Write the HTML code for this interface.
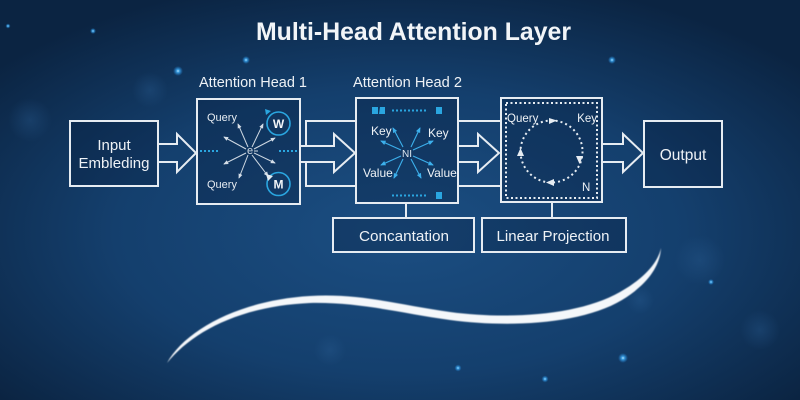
<!DOCTYPE html>
<html><head><meta charset="utf-8"><style>
html,body{margin:0;padding:0;width:800px;height:400px;overflow:hidden;background:#0c2644}
svg{display:block}
text{font-family:"Liberation Sans",Arial,sans-serif}
</style></head><body>
<svg width="800" height="400" viewBox="0 0 800 400" xmlns="http://www.w3.org/2000/svg">
<defs>
<radialGradient id="bg" cx="50%" cy="58%" r="65%">
<stop offset="0" stop-color="#1b4e82"/>
<stop offset="0.55" stop-color="#143f6d"/>
<stop offset="1" stop-color="#0b2442"/>
</radialGradient>
<radialGradient id="dot"><stop offset="0" stop-color="#bfe8ff"/><stop offset="0.3" stop-color="#3fa9f0" stop-opacity="0.9"/><stop offset="1" stop-color="#1f7fd0" stop-opacity="0"/></radialGradient>
<radialGradient id="bokeh"><stop offset="0" stop-color="#2a5d92" stop-opacity="0.35"/><stop offset="1" stop-color="#2a5d92" stop-opacity="0"/></radialGradient>
<marker id="aw" viewBox="0 0 6 6" refX="5" refY="3" markerWidth="5" markerHeight="5" orient="auto"><path d="M0,0.5 L6,3 L0,5.5 Z" fill="#d5dee8"/></marker>
<marker id="ac" viewBox="0 0 6 6" refX="5" refY="3" markerWidth="5" markerHeight="5" orient="auto"><path d="M0,0.5 L6,3 L0,5.5 Z" fill="#3cb0ec"/></marker>
<filter id="soft"><feGaussianBlur stdDeviation="0.6"/></filter>
</defs>
<rect width="800" height="400" fill="url(#bg)"/>
<!-- faint bokeh -->
<circle cx="30" cy="120" r="22" fill="url(#bokeh)"/>
<circle cx="150" cy="90" r="18" fill="url(#bokeh)"/>
<circle cx="700" cy="260" r="25" fill="url(#bokeh)"/>
<circle cx="760" cy="330" r="20" fill="url(#bokeh)"/>
<circle cx="640" cy="300" r="14" fill="url(#bokeh)"/>
<circle cx="330" cy="350" r="16" fill="url(#bokeh)"/>
<!-- bright dots -->
<circle cx="178" cy="71" r="5" fill="url(#dot)"/>
<circle cx="246" cy="60" r="4" fill="url(#dot)"/>
<circle cx="93" cy="31" r="3" fill="url(#dot)"/>
<circle cx="8" cy="26" r="2.5" fill="url(#dot)"/>
<circle cx="612" cy="60" r="4" fill="url(#dot)"/>
<circle cx="711" cy="282" r="3" fill="url(#dot)"/>
<circle cx="623" cy="358" r="5" fill="url(#dot)"/>
<circle cx="545" cy="379" r="3.5" fill="url(#dot)"/>
<circle cx="458" cy="368" r="3.5" fill="url(#dot)"/>

<!-- Title -->
<text x="413.5" y="40" text-anchor="middle" font-size="25" font-weight="bold" fill="#f2f5f8" textLength="315" lengthAdjust="spacingAndGlyphs">Multi-Head Attention Layer</text>

<g stroke="#e6ecf2" stroke-width="2" fill="none">
<!-- Input box -->
<rect x="70" y="121" width="88" height="65" fill="rgba(8,28,56,0.3)"/>
<!-- Input arrow -->
<path d="M158,144 H177 V134 L196,153 L177,172 V162 H158"/>
<!-- Head1 -->
<rect x="197" y="99" width="103" height="105" fill="rgba(8,28,56,0.3)"/>
<!-- connector h1->h2 -->
<path d="M306,146 V121 H356"/>
<path d="M306,162 V186 H356"/>
<path d="M300,146 H334 V134 L355,153 L334,172 V162 H300"/>
<!-- Head2 -->
<rect x="356" y="98" width="102" height="105" fill="rgba(8,28,56,0.3)"/>
<!-- connector h2->h3 -->
<path d="M458,121 H501"/>
<path d="M458,186 H501"/>
<path d="M458,146 H478 V134 L499,153 L478,172 V162 H458"/>
<!-- Box3 -->
<rect x="501" y="98" width="101" height="104" fill="rgba(8,28,56,0.3)"/>
<!-- arrow to output -->
<path d="M602,144 H623 V134 L643,153 L623,172 V162 H602"/>
<!-- Output -->
<rect x="644" y="121" width="78" height="66" fill="rgba(8,28,56,0.3)"/>
<!-- vertical connectors -->
<path d="M406,203 V218"/>
<path d="M552,202 V218"/>
<!-- bottom boxes -->
<rect x="333" y="218" width="141" height="34" fill="rgba(8,28,56,0.3)"/>
<rect x="482" y="218" width="144" height="34" fill="rgba(8,28,56,0.3)"/>
</g>

<!-- Box labels -->
<g fill="#eef2f6" font-size="15">
<text x="114" y="150" text-anchor="middle">Input</text>
<text x="114" y="168" text-anchor="middle" textLength="71" lengthAdjust="spacingAndGlyphs">Embleding</text>
<text x="683" y="160" text-anchor="middle" font-size="15.5">Output</text>
<text x="404" y="241" text-anchor="middle" textLength="90" lengthAdjust="spacingAndGlyphs">Concantation</text>
<text x="553" y="241" text-anchor="middle" textLength="113" lengthAdjust="spacingAndGlyphs">Linear Projection</text>
<text x="199" y="87" textLength="108" lengthAdjust="spacingAndGlyphs">Attention Head 1</text>
<text x="353" y="87" textLength="109" lengthAdjust="spacingAndGlyphs">Attention Head 2</text>
</g>

<!-- Head1 interior -->
<g stroke="#2aa6e0" stroke-width="2" stroke-dasharray="2,2">
<path d="M200,151 H219"/>
<path d="M279,151 H298"/>
</g>
<g stroke="#cfd9e3" stroke-width="1" marker-end="url(#aw)">
<path d="M248,147 L238,124"/>
<path d="M246,149 L224,137"/>
<path d="M246,153 L224,164"/>
<path d="M248,155 L239,178"/>
<path d="M252,147 L263,124"/>
<path d="M254,149 L275,138"/>
<path d="M254,153 L275,163"/>
<path d="M252,155 L268,176"/>
</g>
<text x="250" y="154" text-anchor="middle" font-size="11" fill="#cfd9e3">e</text>
<path d="M254,151 H258" stroke="#cfd9e3" stroke-width="1"/>
<g fill="#e6ecf2" font-size="11">
<text x="207" y="121">Query</text>
<text x="207" y="188">Query</text>
</g>
<circle cx="278.5" cy="123.5" r="11.5" fill="none" stroke="#2aa6e0" stroke-width="1.6"/>
<path d="M265,109 L271,111 L266,115 Z" fill="#2aa6e0"/>
<circle cx="278.5" cy="184" r="11.5" fill="none" stroke="#2aa6e0" stroke-width="1.6"/>
<path d="M266,174 L273,176 L268,181 Z" fill="#e6ecf2"/>
<g fill="#f2f5f8" font-size="12" font-weight="bold" text-anchor="middle">
<text x="278.5" y="128">W</text>
<text x="278.5" y="188.5">M</text>
</g>

<!-- Head2 interior -->
<g fill="#2aa6e0">
<rect x="372" y="107" width="6" height="7"/>
<path d="M380,107 H385 V114 H379 Z"/>
<rect x="436" y="107" width="6" height="7"/>
<rect x="436" y="192" width="6" height="7"/>
</g>
<g stroke="#2aa6e0" stroke-width="2" stroke-dasharray="2,2">
<path d="M392,110.5 H427"/>
<path d="M392,195.5 H427"/>
</g>
<g stroke="#3cb0ec" stroke-width="1.1" marker-end="url(#ac)">
<path d="M403,147 L393,128"/>
<path d="M411,147 L420,128"/>
<path d="M401,150 L381,141"/>
<path d="M413,150 L433,141"/>
<path d="M401,156 L381,165"/>
<path d="M413,156 L433,165"/>
<path d="M403,159 L394,178"/>
<path d="M411,159 L421,178"/>
</g>
<text x="407" y="157" text-anchor="middle" font-size="10" fill="#dfe8f0">NI</text>
<g fill="#eef2f6" font-size="12">
<text x="371" y="135">Key</text>
<text x="428" y="137">Key</text>
<text x="363" y="177">Value</text>
<text x="427" y="177">Value</text>
</g>

<!-- Box3 interior -->
<rect x="506" y="103" width="91" height="95" fill="none" stroke="#e6ecf2" stroke-width="2" stroke-dasharray="2,2.5"/>
<circle cx="551.5" cy="151.5" r="31" fill="none" stroke="#e6ecf2" stroke-width="2" stroke-dasharray="2,3"/>
<g fill="#e6ecf2">
<path d="M549,118 L557,120.5 L549,124 Z"/>
<path d="M579,156 L582.5,164 L586,156 Z" transform="translate(-3,0)"/>
<path d="M554,179 L546,182.5 L554,186 Z"/>
<path d="M517,156 L520.5,148 L524,156 Z"/>
</g>
<g fill="#eef2f6" font-size="11.5">
<text x="507" y="122">Query</text>
<text x="597" y="122" text-anchor="end">Key</text>
<text x="582" y="191">N</text>
</g>

<!-- swoosh -->
<path d="M167,363 C185,330 240,300 310,296 C360,293 400,305 450,312 C510,320 580,315 620,292 C645,278 658,262 661,248 C660,266 648,284 622,300 C582,324 510,328 450,320 C400,313 360,302 310,303 C240,306 192,332 167,363 Z" fill="#f4f7fa" filter="url(#soft)"/>
</svg>
</body></html>
